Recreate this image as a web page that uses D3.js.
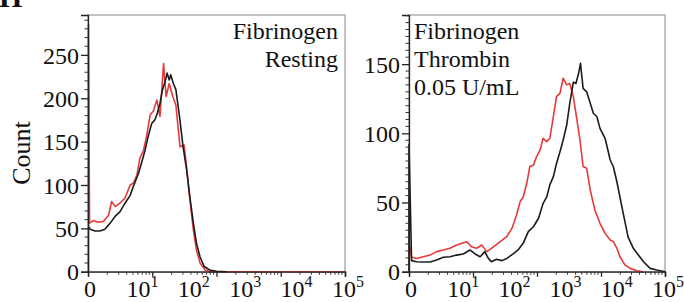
<!DOCTYPE html>
<html><head><meta charset="utf-8">
<script src="https://cdn.jsdelivr.net/npm/d3@7"></script>
<style>
html,body{margin:0;padding:0;background:#fff;}
svg{display:block;}
</style></head>
<body>
<svg id="c" width="684" height="302"></svg>
<script>
// x values are in decade units (0 = "0", 1 = 10^1 ... 5 = 10^5)
const xTickLabels = ["0", "1", "2", "3", "4", "5"];
const leftYTicks = [0, 50, 100, 150, 200, 250];
const rightYTicks = [0, 50, 100, 150];
const leftNotes = ["Fibrinogen", "Resting"];
const rightNotes = ["Fibrinogen", "Thrombin", "0.05 U/mL"];

const leftBlackX = [0.01,0.04,0.14,0.23,0.33,0.43,0.53,0.62,0.72,0.82,0.88,0.98,1.04,1.11,1.17,1.24,1.30,1.35,1.40,1.45,1.50,1.54,1.58,1.61,1.66,1.71,1.78,1.85,1.92,1.98,2.05,2.11,2.18,2.26,2.37,2.50,2.70];
const leftBlackY = [52,49,47,47,49,56,64,69,79,88,98,113,125,140,156,171,175,183,194,210,219,229,221,227,217,210,179,144,117,87,56,33,17,6,2,0.5,0];
const leftRedX = [0.01,0.01,0.03,0.10,0.20,0.30,0.40,0.46,0.53,0.62,0.72,0.82,0.88,0.95,1.01,1.08,1.14,1.21,1.27,1.34,1.40,1.47,1.52,1.58,1.65,1.71,1.79,1.87,1.91,1.97,2.05,2.11,2.18,2.28,2.37,5.0];
const leftRedY = [0,285,56,59,57,58,65,81,75,79,85,100,102,111,131,140,156,181,185,198,179,240,202,217,202,192,144,146,125,90,48,25,10,2,0,0];

const rightBlackX = [0.0,0.0,0.05,0.15,0.28,0.41,0.54,0.67,0.80,0.93,1.06,1.19,1.29,1.39,1.48,1.55,1.61,1.71,1.81,1.91,2.04,2.13,2.23,2.33,2.43,2.53,2.62,2.69,2.75,2.82,2.88,2.95,3.01,3.08,3.14,3.21,3.26,3.31,3.35,3.40,3.47,3.54,3.60,3.67,3.73,3.83,3.93,3.99,4.06,4.12,4.19,4.28,4.38,4.48,4.58,4.71,4.84,5.0];
const rightBlackY = [0,92,8,7.2,7,7,8.4,10.4,10.8,12,12.8,15.7,12.8,10.8,14.5,9.6,7.2,9,8,9.6,13,15.7,20.5,29,32.5,38.6,49.4,54,62.7,68.7,78,86.8,95,106,121.7,137,136,143,150.6,132.5,130,121.7,114.5,112,103.6,96.4,80.7,76,65,54,41,25,17,12,7.2,2.4,1.2,0];
const rightRedX = [0.02,0.05,0.15,0.28,0.41,0.54,0.67,0.80,0.93,1.03,1.13,1.22,1.32,1.42,1.52,1.65,1.78,1.91,2.01,2.10,2.17,2.23,2.30,2.36,2.43,2.49,2.56,2.62,2.69,2.75,2.82,2.88,2.95,3.01,3.08,3.14,3.21,3.28,3.34,3.40,3.47,3.54,3.63,3.73,3.83,3.93,3.99,4.06,4.12,4.22,4.32,4.45,4.58];
const rightRedY = [18,10.4,9.6,10.8,12,14.5,15.7,16.9,19.3,20.5,21.7,18,16.9,19.3,14.5,18,21.7,25.3,31.3,41,50.6,54,63.9,76,77,83,88,96.4,94,96.4,112,126.5,129,139.8,135,136,126.5,109.7,95,76,74.7,59,44.6,35,27.7,22.9,21.7,17,10.8,4.8,2.4,0.7,0];

const FONT = "'Liberation Serif', 'Times New Roman', Times, serif";
const svg = d3.select("#c");
const plotTop = 15, plotBottom = 271.7;

// panel letter (cropped at the top edge, as in the reference)
svg.append("text").attr("x", -1).attr("y", 7).style("font-family", FONT).style("font-size", "30px")
  .style("font-weight", "bold").attr("fill", "#111").text("H");

function panel(x0, x1, yMax, yTicks, minorStep, blackX, blackY, redX, redY, notes, notesAnchor) {
  const x = d3.scaleLinear().domain([0, 5]).range([x0, x1]);
  const y = d3.scaleLinear().domain([0, yMax]).range([plotBottom, plotTop]);
  const g = svg.append("g");
  g.append("rect").attr("x", x0).attr("y", plotTop).attr("width", x1 - x0).attr("height", plotBottom - plotTop)
    .attr("fill", "none").attr("stroke", "#9a9a9a").attr("stroke-width", 1.2);
  const line = d3.line().x(d => x(d[0])).y(d => y(d[1]));
  g.append("path").datum(redX.map((v, i) => [v, redY[i]])).attr("d", line)
    .attr("fill", "none").attr("stroke", "#e8393a").attr("stroke-width", 1.6).attr("stroke-linejoin", "round");
  g.append("path").datum(blackX.map((v, i) => [v, blackY[i]])).attr("d", line)
    .attr("fill", "none").attr("stroke", "#1c1c1c").attr("stroke-width", 1.6).attr("stroke-linejoin", "round");
  const yAxis = d3.axisLeft(y).tickValues(yTicks).tickSize(7).tickPadding(2);
  const ya = g.append("g").attr("transform", `translate(${x0},0)`).call(yAxis);
  ya.select(".domain").attr("stroke", "#222").attr("stroke-width", 1.3);
  ya.selectAll(".tick line").attr("stroke", "#222").attr("stroke-width", 1.3);
  ya.selectAll(".tick text").style("font-size", "24px").style("font-family", FONT).attr("fill", "#111").attr("dy", "0.34em");
  const minors = d3.range(0, yMax, minorStep).filter(v => !yTicks.includes(v));
  g.selectAll(".ymin").data(minors).enter().append("line")
    .attr("x1", x0 - 3.5).attr("x2", x0).attr("y1", d => y(d)).attr("y2", d => y(d))
    .attr("stroke", "#333").attr("stroke-width", 1);
  const segW = 5 / 4;
  const majors = d3.range(0, 5).map(i => i * segW).concat([5]);
  const xminors = [];
  for (let i = 0; i < 4; i++) for (let m = 2; m <= 9; m++) xminors.push(i * segW + Math.log10(m) * segW);
  const xa = g.append("g").attr("transform", `translate(0,${plotBottom})`)
    .call(d3.axisBottom(x).tickValues(majors).tickSize(5).tickFormat(""));
  xa.select(".domain").attr("stroke", "#222").attr("stroke-width", 1.3);
  xa.selectAll(".tick line").attr("stroke", "#222").attr("stroke-width", 1.3);
  g.selectAll(".xmin").data(xminors).enter().append("line")
    .attr("x1", d => x(d)).attr("x2", d => x(d)).attr("y1", plotBottom).attr("y2", plotBottom + 3)
    .attr("stroke", "#333").attr("stroke-width", 1);
  xTickLabels.forEach((lab, i) => {
    const t = g.append("text").style("font-family", FONT).style("font-size", "24px")
      .attr("fill", "#111").attr("text-anchor", "middle").attr("y", 297);
    if (lab === "0") { t.attr("x", x(i) + 2).text("0"); }
    else {
      t.attr("x", x(i) + 3);
      t.append("tspan").text("10");
      t.append("tspan").style("font-size", "16px").attr("dy", -10).text(lab);
    }
  });
  notes.forEach((s, i) => {
    g.append("text").style("font-family", FONT).style("font-size", "24px").attr("fill", "#111")
      .attr("x", notesAnchor === "end" ? x1 - 7 : x0 + 5)
      .attr("y", 39 + i * 28)
      .attr("text-anchor", notesAnchor).text(s);
  });
}

panel(88, 345, 296, leftYTicks, 10, leftBlackX, leftBlackY, leftRedX, leftRedY, leftNotes, "end");
panel(409, 665, 185.5, rightYTicks, 5, rightBlackX, rightBlackY, rightRedX, rightRedY, rightNotes, "start");

svg.append("text").style("font-family", FONT).style("font-size", "26px").attr("fill", "#111")
  .attr("text-anchor", "middle")
  .attr("transform", "translate(30,153) rotate(-90)").text("Count");
</script>
</body></html>
